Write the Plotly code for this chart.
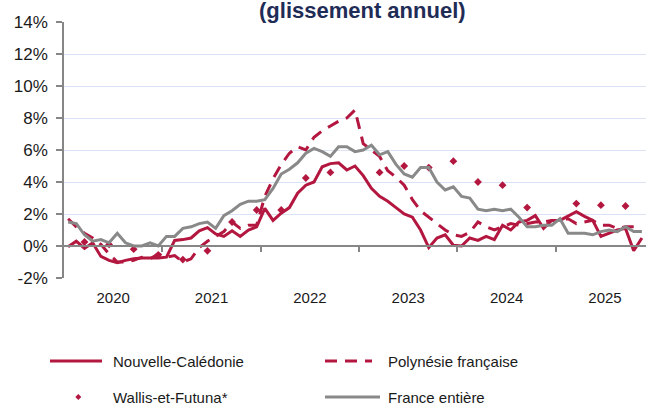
import plotly.graph_objects as go

# Months Jan 2020 .. Nov 2025
years = [2020, 2021, 2022, 2023, 2024, 2025]
months = [f"{y}-{m:02d}" for y in years for m in range(1, 13)][:71]

nouvelle_caledonie = [
    -0.05, 0.3, -0.15, 0.2, -0.65, -0.9, -1.05, -0.9, -0.8, -0.75, -0.75, -0.75,
    -0.7, 0.35, 0.4, 0.5, 0.95, 1.15, 0.75, 0.6, 0.95, 0.6, 1.0, 1.2,
    2.35, 1.6, 2.05, 2.4, 3.3, 3.8, 4.0, 4.95, 5.15, 5.2, 4.75, 5.0,
    4.4, 3.6, 3.1, 2.8, 2.4, 2.0, 1.8, 1.0, -0.1, 0.5, 0.7, 0.05,
    0.0, 0.5, 0.35, 0.6, 0.4, 1.3, 1.0, 1.5, 1.6, 1.9, 1.1, 1.6,
    1.6, 1.9, 2.15, 1.85, 1.6, 0.6, 0.8, 1.0, 1.1, -0.3, 0.5,
]

polynesie = [
    1.7, 1.2, 0.8, 0.5, 0.1, -0.5, -1.0, -1.0, -0.9, -0.7, -0.8, -0.5,
    -0.7, -0.6, -1.0, -0.8, -0.1, 0.3, 0.6, 0.9, 1.5, 1.1, 1.3, 1.3,
    3.1, 4.2, 5.1, 5.8, 6.2, 6.0, 6.8, 7.2, 7.5, 7.8, 8.0, 8.5,
    6.4, 6.0, 5.6, 4.7, 4.3, 3.8, 2.9, 2.2, 1.8, 1.4, 1.0, 0.7,
    0.6, 0.85, 1.5, 1.2, 1.0, 1.2, 1.4, 1.3, 1.4, 1.5, 1.5, 1.6,
    1.6, 1.7, 1.4, 1.5, 1.6, 1.3, 1.3, 1.1, 1.2, 1.2, None,
]

wallis = [None] * 71
wallis_quarterly = {
    2: 0.25, 5: 0.1, 8: -0.2, 11: -0.55, 14: -0.85, 17: -0.3, 20: 1.5, 23: 2.25,
    26: 2.25, 29: 4.25, 32: 4.6, 38: 4.6, 41: 5.0, 44: 4.9, 47: 5.3, 50: 4.0,
    53: 3.8, 56: 2.4, 62: 2.65, 65: 2.55, 68: 2.5,
}
for k, v in wallis_quarterly.items():
    wallis[k] = v

france = [
    1.5, 1.4, 0.7, 0.3, 0.4, 0.2, 0.8, 0.2, 0.0, 0.0, 0.2, 0.0,
    0.6, 0.6, 1.1, 1.2, 1.4, 1.5, 1.1, 1.9, 2.2, 2.6, 2.8, 2.8,
    2.9, 3.6, 4.5, 4.8, 5.2, 5.8, 6.1, 5.9, 5.6, 6.2, 6.2, 5.9,
    6.0, 6.3, 5.7, 5.9, 5.1, 4.5, 4.3, 4.9, 4.9, 4.0, 3.5, 3.7,
    3.1, 3.0, 2.3, 2.2, 2.3, 2.2, 2.3, 1.8, 1.2, 1.2, 1.3, 1.3,
    1.7, 0.8, 0.8, 0.8, 0.7, 0.9, 1.0, 0.9, 1.2, 0.9, 0.9,
]

y_ticks = list(range(-2, 15, 2))
y_tick_labels = [f"{v}%" for v in y_ticks]
year_labels = [str(y) for y in years]

CRIMSON = "#B3173F"
GREY = "#898989"
AXIS = "#868686"
GRID = "#D9E3F5"
FONT = "Liberation Sans, Arial, sans-serif"

idx = list(range(len(months)))
n = len(months)

fig = go.Figure()
fig.add_trace(go.Scatter(x=idx, y=nouvelle_caledonie, mode="lines",
                         line=dict(color=CRIMSON, width=3), name="Nouvelle-Calédonie"))
fig.add_trace(go.Scatter(x=idx, y=polynesie, mode="lines",
                         line=dict(color=CRIMSON, width=3, dash="12px,8px"),
                         name="Polynésie française"))
fig.add_trace(go.Scatter(x=idx, y=wallis, mode="markers",
                         marker=dict(symbol="diamond", size=6, color=CRIMSON),
                         name="Wallis-et-Futuna*"))
fig.add_trace(go.Scatter(x=idx, y=france, mode="lines", xaxis="x2",
                         line=dict(color=GREY, width=3), name="France entière"))

year_centers = [12 * i + 5.5 for i in range(len(years))]
year_bounds = [12 * i - 0.5 for i in range(1, len(years))]

fig.update_layout(
    width=646, height=406,
    margin=dict(l=64, r=0, t=22, b=128),
    paper_bgcolor="white", plot_bgcolor="white",
    showlegend=False,
    font=dict(family=FONT, color="#1a1a1a"),
    xaxis=dict(range=[-0.5, n - 0.5], tickvals=year_centers, ticktext=year_labels,
               showgrid=False, zeroline=False, showline=False, ticks="",
               ticklabelstandoff=9,
               tickfont=dict(size=15, color="#1a1a1a")),
    xaxis2=dict(range=[-0.5, n - 0.5], overlaying="x", anchor="free", position=0.125,
                tickvals=year_bounds, showticklabels=False, ticks="outside",
                ticklen=5, tickcolor=AXIS, tickwidth=1.5,
                showline=True, linecolor=AXIS, linewidth=1.5,
                showgrid=False, zeroline=False),
    yaxis=dict(range=[-2, 14], tickvals=y_ticks, ticktext=y_tick_labels,
               showgrid=True, gridcolor=GRID, gridwidth=1.3, zeroline=False,
               showline=True, linecolor=AXIS, linewidth=1.5,
               ticks="outside", ticklen=6, tickcolor=AXIS, tickwidth=1.5,
               ticklabelstandoff=5,
               tickfont=dict(size=17, color="#1a1a1a")),
)

# Title (partially cut at top in the original)
fig.add_annotation(text="<b>(glissement annuel)</b>", xref="paper", yref="paper",
                   x=(362 - 64) / 582, y=1 + 12 / 256, xanchor="center", yanchor="middle",
                   showarrow=False, font=dict(size=22, color="#1F2C56", family=FONT))

# Manual legend
def px_x(p):
    return (p - 64) / 582

def px_y(p):
    return (278 - p) / 256

legend_font = dict(size=15, color="#1a1a1a", family=FONT)
row1, row2 = 361, 397
fig.add_shape(type="line", xref="paper", yref="paper", x0=px_x(50), x1=px_x(102),
              y0=px_y(row1), y1=px_y(row1), line=dict(color=CRIMSON, width=3))
fig.add_shape(type="line", xref="paper", yref="paper", x0=px_x(325), x1=px_x(372),
              y0=px_y(row1), y1=px_y(row1), line=dict(color=CRIMSON, width=3, dash="12px,8px"))
fig.add_shape(type="line", xref="paper", yref="paper", x0=px_x(325), x1=px_x(380),
              y0=px_y(row2), y1=px_y(row2), line=dict(color=GREY, width=3))
d = 3.0
fig.add_shape(type="path", xref="paper", yref="paper",
              path=f"M {px_x(78.3)},{px_y(row2 - d)} L {px_x(78.3 + d)},{px_y(row2)} "
                   f"L {px_x(78.3)},{px_y(row2 + d)} L {px_x(78.3 - d)},{px_y(row2)} Z",
              fillcolor=CRIMSON, line=dict(width=0))
for label, xp, yp in [("Nouvelle-Calédonie", 111, row1), ("Polynésie française", 386, row1),
                      ("Wallis-et-Futuna*", 111, row2), ("France entière", 386, row2)]:
    fig.add_annotation(text=label, xref="paper", yref="paper", x=px_x(xp), y=px_y(yp),
                       xanchor="left", yanchor="middle", showarrow=False, font=legend_font)

fig.write_html("out.html", config={"displayModeBar": False},
               post_script="document.body.style.margin='0';document.body.style.overflow='hidden';")
